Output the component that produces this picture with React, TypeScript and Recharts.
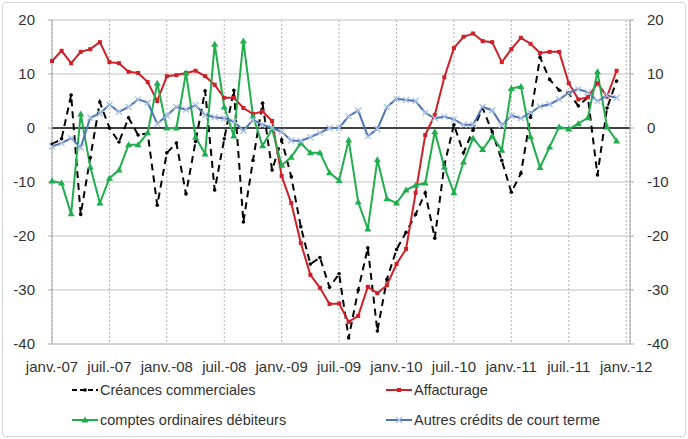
import { CartesianGrid, Legend, Line, LineChart, ReferenceLine, XAxis, YAxis } from "recharts";

const tickLabels = [
  "janv.-07", "juil.-07", "janv.-08", "juil.-08", "janv.-09", "juil.-09",
  "janv.-10", "juil.-10", "janv.-11", "juil.-11", "janv.-12"
];
const xTicks = [0, 6, 12, 18, 24, 30, 36, 42, 48, 54, 60];
const yTicks = [-40, -30, -20, -10, 0, 10, 20];

// monthly values, janv.-07 .. déc.-11
const creances = [
  -3, -2, 6.1, -16, -5.5, 4.8, 0, -2.6, 1.9, -1.3, -1, -14.3,
  -4.6, -2.8, -12.2, -2.5, 6.9, -11.5, -2, 7, -17.4, -6, 4.6, -7.8,
  -2.2, -9, -18.3, -25.2, -24, -29.5, -27, -38.9, -30, -22.2, -37.6, -28,
  -22.5, -19.3, -16, -12, -20.4, -6.9, 0.6, -4.6, -0.4, 3.7, -0.7, -6,
  -11.9, -8.4, 2, 13.1, 9, 7, 6.5, 4.1, 5.7, -8.7, 3.7, 8.7
];
const affacturage = [
  12.4, 14.3, 12, 14.1, 14.6, 15.9, 12.2, 12, 10.4, 10.2, 8.5, 5,
  9.6, 9.8, 10.2, 10.6, 9.6, 8, 5.6, 5.6, 3.7, 2.6, 3.1, 1.3,
  -8.9, -13.9, -21.3, -27.2, -29.6, -32.6, -32.5, -35.9, -34.8, -29.4, -30.6, -29.1,
  -25.2, -22.4, -12, -1.3, 2.4, 9.4, 14.8, 16.9, 17.5, 16.1, 15.9, 12.2,
  14.6, 16.7, 15.6, 13.9, 14.1, 14.1, 8.3, 5.3, 5.7, 8.3, 5.8, 10.6
];
const comptes = [
  -9.8, -10.2, -15.9, 2.6, -7.2, -13.9, -9.3, -7.8, -3.1, -3.1, -0.9, 8.3,
  0, 0, 10.2, -1.7, -4.8, 15.5, 3.9, -1.5, 16.1, 2.2, -3.3, -0.2,
  -6.9, -5.4, -2.8, -4.6, -4.6, -8.3, -9.7, -2.2, -13.7, -18.7, -5.9, -13.1,
  -13.9, -11.5, -10.6, -10.2, -0.7, -7.2, -12, -6.3, -1.9, -4, -1.5, -4.1,
  7.3, 7.7, -1.6, -7.3, -3.5, 0.2, -0.2, 0.8, 1.9, 10.4, 0.2, -2.4
];
const autres = [
  -3.4, -2.8, -1.9, -3.6, 1.9, 2.7, 4.3, 3, 3.9, 5.3, 4.7, 0.8,
  2.3, 3.9, 3.4, 4.2, 2.4, 2, 1.8, 1.2, -0.5, 1.5, 0.6, 0,
  -0.7, -2.3, -2.4, -1.7, -0.9, 0, 0, 2.2, 3.2, -1.5, -0.2, 3.9,
  5.4, 5.2, 5, 2.8, 1.8, 2.1, 1.6, 0.6, 0.6, 3.9, 3.3, 0.5,
  2.3, 1.8, 2.8, 4, 4.4, 5.3, 6.5, 7.2, 6.6, 5, 6, 5.6
];

const data = creances.map((v, i) => ({
  m: i,
  creances: v,
  affacturage: affacturage[i],
  comptes: comptes[i],
  autres: autres[i]
}));

const BLACK = "#000000";
const RED = "#d01f26";
const GREEN = "#1fae4b";
const BLUE = "#4a76b5";
const XBLUE = "#a9c1e3";

const font = "'Liberation Sans', Arial, sans-serif";

const roundDot = (color: string, r: number) => (p: any) => (
  <circle key={`c${p.index}`} cx={p.cx} cy={p.cy} r={r} fill={color} stroke="none" />
);
const squareDot = (p: any) => (
  <rect key={`s${p.index}`} x={p.cx - 2} y={p.cy - 2} width={4} height={4} fill={RED} />
);
const triDot = (p: any) => (
  <path
    key={`t${p.index}`}
    d={`M${p.cx},${p.cy - 3.5}L${p.cx + 3.5},${p.cy + 2.5}L${p.cx - 3.5},${p.cy + 2.5}Z`}
    fill={GREEN}
  />
);
const crossDot = (p: any) => (
  <path
    key={`x${p.index}`}
    d={`M${p.cx - 3},${p.cy - 3}L${p.cx + 3},${p.cy + 3}M${p.cx - 3},${p.cy + 3}L${p.cx + 3},${p.cy - 3}`}
    stroke={XBLUE}
    strokeWidth={1.3}
  />
);

// the last series sits on the right axis (same scale) so that axis gets its ticks
const series = [
  { key: "creances", name: "Créances commerciales", color: BLACK, dash: "7 5", dot: roundDot(BLACK, 1.8), axis: "left" },
  { key: "affacturage", name: "Affacturage", color: RED, dash: undefined, dot: squareDot, axis: "left" },
  { key: "comptes", name: "comptes ordinaires débiteurs", color: GREEN, dash: undefined, dot: triDot, axis: "left" },
  { key: "autres", name: "Autres crédits de court terme", color: BLUE, dash: undefined, dot: crossDot, axis: "right" }
];

function LegendBox() {
  return (
    <div style={{ position: "relative", width: 688, height: 60, fontFamily: font, fontSize: 14.5, color: "#333" }}>
      {series.map((s, i) => {
        const left = i % 2 === 0 ? 72 : 386;
        const top = 7 + Math.floor(i / 2) * 30;
        const m = s.dot({ cx: 13, cy: 8, index: 0 });
        return (
          <div key={s.key} style={{ position: "absolute", left, top, height: 18, display: "flex", alignItems: "center" }}>
            <svg width={27} height={16}>
              <line x1={0} y1={8} x2={26} y2={8} stroke={s.color} strokeWidth={2} strokeDasharray={s.dash ? "5 3" : undefined} />
              {m}
            </svg>
            <span style={{ marginLeft: 1, whiteSpace: "nowrap" }}>{s.name}</span>
          </div>
        );
      })}
    </div>
  );
}

export default function App() {
  return (
    <div style={{ position: "absolute", left: 0, top: 0, width: 688, height: 439, background: "#fff" }}>
      <div
        style={{
          position: "absolute",
          left: 2,
          top: 2,
          width: 682,
          height: 433,
          border: "1px solid #d4d4d4",
          borderRadius: 4
        }}
      />
      <LineChart width={688} height={439} data={data} margin={{ top: 20, right: 0, bottom: 5, left: 0 }}>
        <CartesianGrid yAxisId="left" vertical={false} stroke="#c4c4c4" strokeWidth={1.2} />
        <CartesianGrid yAxisId="left" horizontal={false} stroke="#b0b0b0" strokeDasharray="2 2" />
        <XAxis
          dataKey="m"
          type="number"
          domain={[0, 60.4]}
          ticks={xTicks}
          interval={0}
          tickFormatter={(v: number) => tickLabels[v / 6]}
          tickLine={false}
          axisLine={{ stroke: "#c4c4c4" }}
          tickSize={6}
          tickMargin={11}
          height={30}
          tick={{ fontSize: 15, fill: "#333", fontFamily: font }}
        />
        <YAxis
          yAxisId="left"
          domain={[-40, 20]}
          ticks={yTicks}
          interval={0}
          width={52}
          tickSize={4}
          tickMargin={13}
          axisLine={{ stroke: "#a6a6a6" }}
          tickLine={{ stroke: "#a6a6a6" }}
          tick={{ fontSize: 15, fill: "#333", fontFamily: font }}
        />
        <YAxis
          yAxisId="right"
          orientation="right"
          domain={[-40, 20]}
          ticks={yTicks}
          interval={0}
          width={58}
          tickSize={4}
          tickMargin={13}
          axisLine={{ stroke: "#a6a6a6" }}
          tickLine={{ stroke: "#a6a6a6" }}
          tick={{ fontSize: 15, fill: "#333", fontFamily: font }}
        />
        <ReferenceLine yAxisId="left" y={0} stroke="#404040" strokeWidth={2} />
        <Legend verticalAlign="bottom" content={() => <LegendBox />} wrapperStyle={{ left: 0, width: 688 }} />
        {series.map((s) => (
          <Line
            key={s.key}
            yAxisId={s.axis}
            type="linear"
            dataKey={s.key}
            name={s.name}
            stroke={s.color}
            strokeWidth={2}
            strokeDasharray={s.dash}
            dot={s.dot}
            activeDot={false}
            isAnimationActive={false}
          />
        ))}
      </LineChart>
    </div>
  );
}
